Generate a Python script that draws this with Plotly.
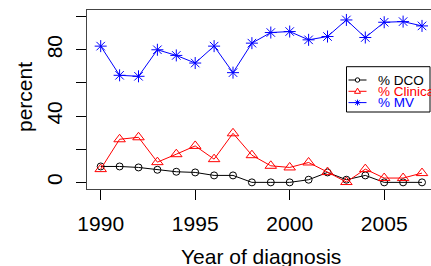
import plotly.graph_objects as go

years = list(range(1990, 2008))
dco = [9.6, 9.6, 9.0, 7.6, 6.4, 6.0, 4.2, 4.2, 0.0, 0.0, 0.0, 1.6, 6.0, 1.6, 4.2, 0.0, 0.0, 0.0]
clinical = [8.0, 26.0, 27.2, 12.2, 17.0, 22.0, 14.0, 29.6, 16.4, 10.0, 9.0, 12.0, 6.2, 0.2, 8.0, 2.6, 2.6, 5.6]
mv = [82.2, 64.6, 64.0, 80.0, 76.6, 72.0, 82.2, 66.2, 84.0, 90.4, 91.0, 86.0, 88.0, 98.0, 87.4, 96.6, 97.0, 94.4]
x_ticks = [1990, 1995, 2000, 2005]
y_ticks = [0, 20, 40, 60, 80, 100]
y_ticktext = ["0", "", "40", "", "80", ""]
legend_labels = ["% DCO", "% Clinical", "% MV"]
colors = ["black", "#FF0000", "#0000FF"]

W, H = 431, 266
L, R, T, B = 87, 0, 10, 77
PW, PH = W - L - R, H - T - B
FONT = "Liberation Sans, Arial, sans-serif"

def px(x):
    return (x - L) / PW

def py(y):
    return (H - B - y) / PH

fig = go.Figure()
fig.add_trace(go.Scatter(x=years, y=dco, mode="lines+markers",
                         line=dict(color=colors[0], width=1),
                         marker=dict(symbol="circle-open", size=7, color=colors[0], line=dict(width=1))))
fig.add_trace(go.Scatter(x=years, y=clinical, mode="lines+markers",
                         line=dict(color=colors[1], width=1),
                         marker=dict(symbol="triangle-up-open", size=10, color=colors[1], line=dict(width=1))))
fig.add_trace(go.Scatter(x=years, y=mv, mode="lines+markers",
                         line=dict(color=colors[2], width=1),
                         marker=dict(symbol="asterisk-open", size=10, color=colors[2], line=dict(width=1, color=colors[2]))))

shapes = []
annotations = []
# legend box
shapes.append(dict(type="rect", xref="paper", yref="paper",
                   x0=px(346.5), x1=px(430), y0=py(112), y1=py(66.7),
                   line=dict(color="black", width=1), fillcolor="white", layer="above"))
rows = [80, 91.3, 102.6]
for i, (lab, col, ry) in enumerate(zip(legend_labels, colors, rows)):
    shapes.append(dict(type="line", xref="paper", yref="paper",
                       x0=px(348.5), x1=px(366.5), y0=py(ry), y1=py(ry),
                       line=dict(color=col, width=1), layer="above"))
    cx = 357.5
    if i == 0:
        shapes.append(dict(type="circle", xref="paper", yref="paper",
                           x0=px(cx - 2.2), x1=px(cx + 2.2), y0=py(ry + 2.2), y1=py(ry - 2.2),
                           line=dict(color=col, width=1), fillcolor="white", layer="above"))
    elif i == 1:
        path = "M {} {} L {} {} L {} {} Z".format(
            px(cx - 3), py(ry + 2), px(cx + 3), py(ry + 2), px(cx), py(ry - 3.2))
        shapes.append(dict(type="path", xref="paper", yref="paper", path=path,
                           line=dict(color=col, width=1), fillcolor="white", layer="above"))
    else:
        r = 3
        d = 2.2
        for (dx0, dy0, dx1, dy1) in [(-r, 0, r, 0), (0, -r, 0, r), (-d, -d, d, d), (-d, d, d, -d)]:
            shapes.append(dict(type="line", xref="paper", yref="paper",
                               x0=px(cx + dx0), x1=px(cx + dx1), y0=py(ry + dy0), y1=py(ry + dy1),
                               line=dict(color=col, width=1), layer="above"))
    annotations.append(dict(text=lab, xref="paper", yref="paper", x=px(375.5), y=py(ry),
                            xanchor="left", yanchor="middle", showarrow=False,
                            font=dict(family=FONT, size=13.5, color=col)))

annotations.append(dict(text="Year of diagnosis", xref="paper", yref="paper", x=px(260.5), y=0,
                        xanchor="center", yanchor="middle", yshift=-67, showarrow=False,
                        font=dict(family=FONT, size=21, color="black")))
annotations.append(dict(text="percent", xref="paper", yref="paper", x=0, y=py(97),
                        xanchor="center", yanchor="middle", xshift=24 - L, textangle=-90,
                        showarrow=False, font=dict(family=FONT, size=21, color="black")))

xr0 = 1990 - (100.7 - L) / 18.9
xr1 = xr0 + PW / 18.9

fig.update_layout(
    width=W, height=H,
    margin=dict(l=L, r=R, t=T, b=B, pad=0),
    paper_bgcolor="white", plot_bgcolor="white",
    showlegend=False,
    shapes=shapes, annotations=annotations,
    xaxis=dict(range=[xr0, xr1], tickvals=x_ticks, ticks="outside", ticklen=10,
               tickcolor="black", tickwidth=1, showgrid=False, zeroline=False,
               showline=True, linecolor="#444", linewidth=1, mirror=True,
               ticklabelstandoff=6,
               tickfont=dict(family=FONT, size=21, color="black")),
    yaxis=dict(range=[-4, 104], tickvals=y_ticks, ticktext=y_ticktext, ticks="outside",
               ticklen=10, tickcolor="black", tickwidth=1, showgrid=False, zeroline=False,
               showline=True, linecolor="#444", linewidth=1, mirror=False, tickangle=-90,
               ticklabelstandoff=6,
               tickfont=dict(family=FONT, size=21, color="black")),
)

fig.write_html("out.html", config={"displayModeBar": False},
               post_script="document.body.style.margin='0';document.body.style.overflow='hidden';")
